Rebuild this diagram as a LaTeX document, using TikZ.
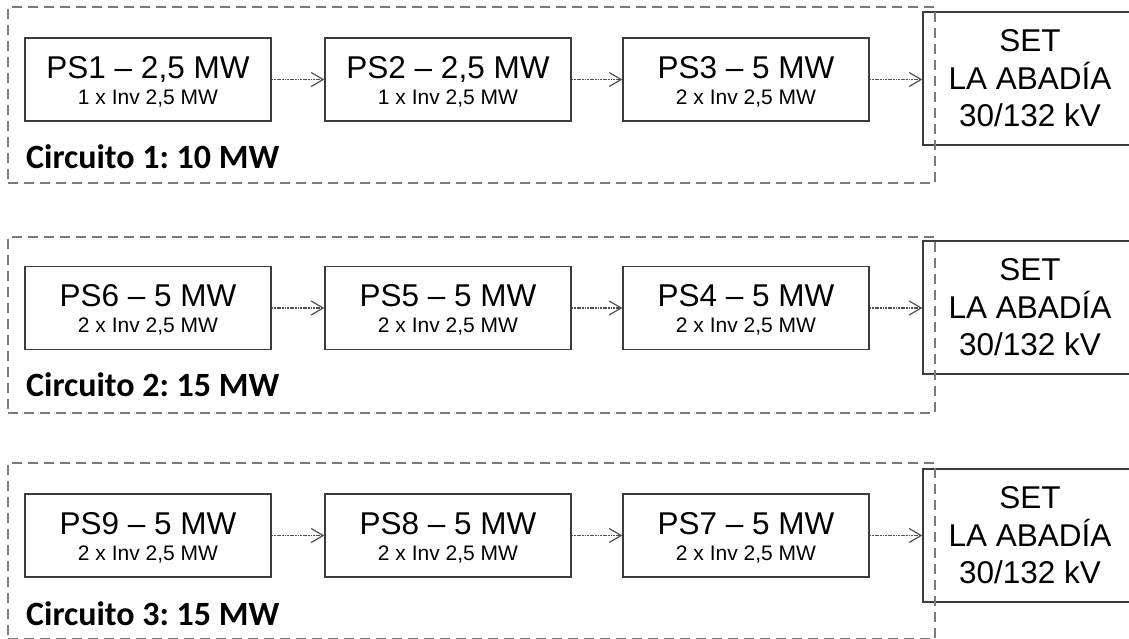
\documentclass[tikz,border=0pt]{standalone}
\usepackage{fontspec}
\setmainfont{Liberation Sans}
\newfontfamily\calfont{Carlito}
\usetikzlibrary{arrows.meta}
\definecolor{boxc}{HTML}{3C3C3C}
\definecolor{grpc}{HTML}{7A7A7A}
\definecolor{arrc}{HTML}{505050}
\frenchspacing
\begin{document}
\begin{tikzpicture}[x=1pt,y=-1pt,
  psbox/.style={draw=boxc, line width=1.3pt, minimum width=246pt, minimum height=83pt, inner sep=0pt},
  pstitle/.style={anchor=base, inner sep=0pt, font=\fontsize{31.5}{36}\selectfont},
  pssub/.style={anchor=base, inner sep=0pt, font=\fontsize{21}{25}\selectfont},
  setbox/.style={draw=boxc, line width=1.3pt, minimum width=214pt, minimum height=133pt,
    inner sep=0pt, align=center, font=\fontsize{31.5}{37.5}\selectfont},
  grp/.style={draw=grpc, line width=2pt, dash pattern=on 10pt off 6pt,
    minimum width=927pt, minimum height=176pt, inner sep=0pt},
  circlabel/.style={anchor=base west, inner sep=0pt, font=\calfont\bfseries\frenchspacing\fontsize{34}{36}\selectfont},
  flow/.style={draw=arrc, line width=1.4pt, dash pattern=on 1.8pt off 0.8pt,
    -{Straight Barb[length=12pt,width=14pt,line width=1.2pt]}}
]
\useasboundingbox (0,0) rectangle (1129,638);
\newcommand{\psnode}[5]{%
  \node[psbox] (#1) at (#2,#3) {};
  \node[pstitle] (#1-t) at ([yshift=-41pt]#1.north) {#4};
  \node[pssub] (#1-s) at ([yshift=-67pt]#1.north) {#5};}

% Row 1
\node[setbox] (set1) at (1030,78.5) {SET\\LA ABADÍA\\30/132 kV};
\psnode{ps1}{148}{79.5}{PS1 – 2,5 MW}{1 x Inv 2,5 MW}
\psnode{ps2}{448}{79.5}{PS2 – 2,5 MW}{1 x Inv 2,5 MW}
\psnode{ps3}{746}{79.5}{PS3 – 5 MW}{2 x Inv 2,5 MW}
\node[grp] (c1) at (471.5,95) {};
\node[circlabel] (l1) at (26,168) {Circuito 1: 10 MW};
\draw[flow] (ps1) -- (ps2);
\draw[flow] (ps2) -- (ps3);
\draw[flow] (ps3.east) -- (ps3.east -| set1.west);

% Row 2
\node[setbox] (set2) at (1030,307.5) {SET\\LA ABADÍA\\30/132 kV};
\psnode{ps6}{148}{308}{PS6 – 5 MW}{2 x Inv 2,5 MW}
\psnode{ps5}{448}{308}{PS5 – 5 MW}{2 x Inv 2,5 MW}
\psnode{ps4}{746}{308}{PS4 – 5 MW}{2 x Inv 2,5 MW}
\node[grp] (c2) at (471.5,324.5) {};
\node[circlabel] (l2) at (26,396.5) {Circuito 2: 15 MW};
\draw[flow] (ps6) -- (ps5);
\draw[flow] (ps5) -- (ps4);
\draw[flow] (ps4.east) -- (ps4.east -| set2.west);

% Row 3
\node[setbox] (set3) at (1030,535.5) {SET\\LA ABADÍA\\30/132 kV};
\psnode{ps9}{148}{535.5}{PS9 – 5 MW}{2 x Inv 2,5 MW}
\psnode{ps8}{448}{535.5}{PS8 – 5 MW}{2 x Inv 2,5 MW}
\psnode{ps7}{746}{535.5}{PS7 – 5 MW}{2 x Inv 2,5 MW}
\node[grp] (c3) at (471.5,551) {};
\node[circlabel] (l3) at (26,625) {Circuito 3: 15 MW};
\draw[flow] (ps9) -- (ps8);
\draw[flow] (ps8) -- (ps7);
\draw[flow] (ps7.east) -- (ps7.east -| set3.west);
\end{tikzpicture}
\end{document}
